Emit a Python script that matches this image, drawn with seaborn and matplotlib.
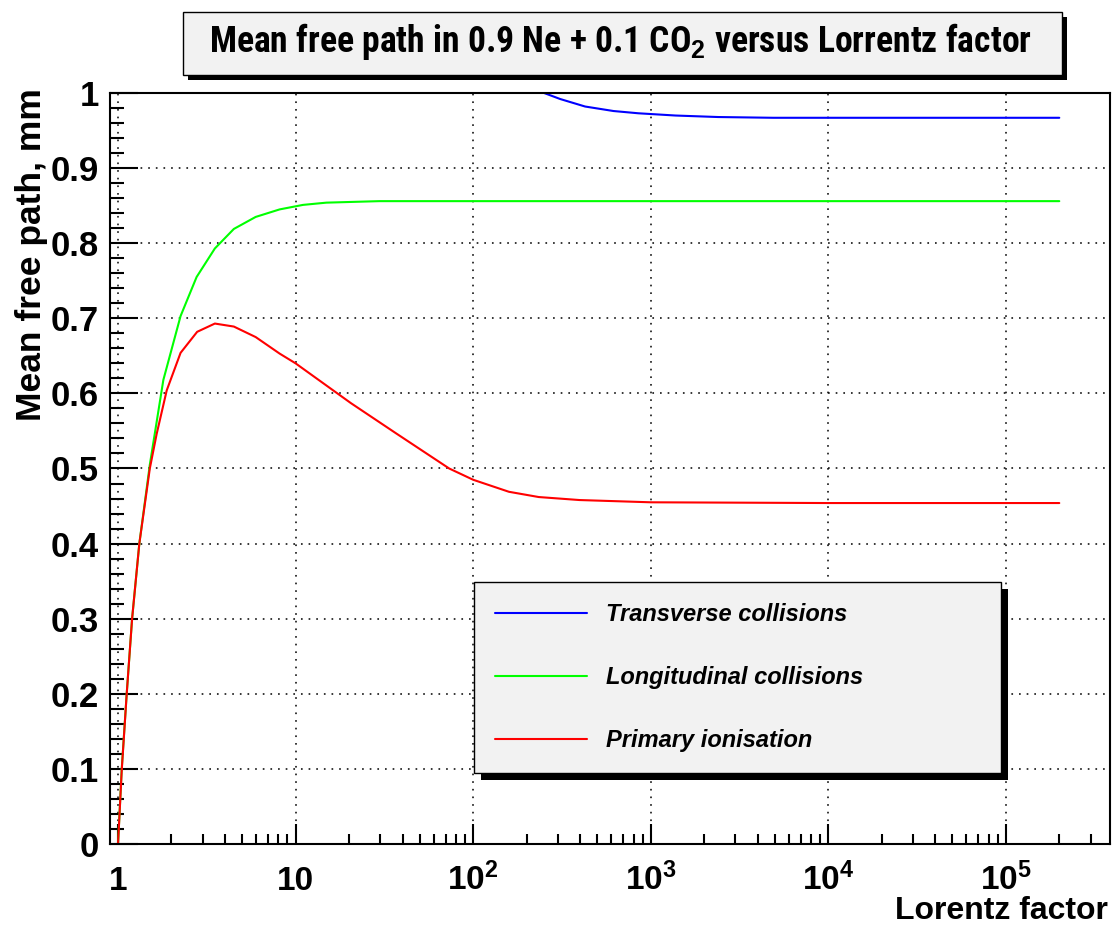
import matplotlib
matplotlib.use("Agg")
import matplotlib.pyplot as plt
import numpy as np
import pandas as pd
import seaborn as sns
from matplotlib import font_manager
from matplotlib.font_manager import FontProperties
from matplotlib.patches import Rectangle
from matplotlib.ticker import FixedLocator, MultipleLocator, FuncFormatter, NullFormatter

# ---- data: mean free path (mm) versus Lorentz factor ----
gamma_transverse = [200, 251, 309, 427, 617, 851, 1000, 1380, 2400, 4900, 1e4, 1e5, 2e5]
mfp_transverse = [1.01, 1.0, 0.992, 0.982, 0.976, 0.973, 0.972, 0.970, 0.968, 0.967, 0.967, 0.967, 0.967]

gamma_longitudinal = [1.0, 1.049, 1.119, 1.20, 1.318, 1.51, 1.80, 2.25, 2.77, 3.51, 4.49, 5.96,
                      8.13, 11.0, 14.9, 29.6, 100, 1000, 1e4, 1e5, 2e5]
mfp_longitudinal = [0.0, 0.10, 0.20, 0.30, 0.40, 0.505, 0.618, 0.703, 0.755, 0.793, 0.819, 0.835,
                    0.845, 0.851, 0.854, 0.856, 0.856, 0.856, 0.856, 0.856, 0.856]

gamma_primary = [1.0, 1.049, 1.119, 1.20, 1.318, 1.51, 1.65, 1.88, 2.25, 2.79, 3.51, 4.49, 5.96,
                 8.13, 10.0, 20.5, 36.7, 73.3, 100, 159, 234, 397, 1000, 1e4, 1e5, 2e5]
mfp_primary = [0.0, 0.098, 0.20, 0.30, 0.40, 0.50, 0.546, 0.604, 0.654, 0.682, 0.693, 0.689, 0.675,
               0.653, 0.640, 0.587, 0.547, 0.500, 0.485, 0.469, 0.462, 0.458, 0.455, 0.454, 0.454, 0.454]

series_labels = ["Transverse collisions", "Longitudinal collisions", "Primary ionisation"]
series_colors = ["#0000ff", "#00ff00", "#ff0000"]

x_major = [1, 10, 100, 1000, 1e4, 1e5]
x_major_labels = ["1", "10", r"$\mathbf{10^{2}}$", r"$\mathbf{10^{3}}$", r"$\mathbf{10^{4}}$", r"$\mathbf{10^{5}}$"]

title_text = r"Mean free path in 0.9 Ne + 0.1 CO$_{\mathbf{2}}$ versus Lorrentz factor"
xlabel_text = "Lorentz factor"
ylabel_text = "Mean free path, mm"

# ---- style ----
sns.set_style("white")


def narrow_font():
    """Pick a condensed bold sans face for the title if one is installed."""
    candidates = [("Liberation Sans Narrow", "normal"), ("Roboto Condensed", "normal"),
                  ("Noto Sans", "condensed"), ("Open Sans", "condensed"), ("DejaVu Sans", "condensed")]
    for fam, stretch in candidates:
        try:
            path = font_manager.findfont(FontProperties(family=fam, weight="bold", stretch=stretch),
                                         fallback_to_default=False)
        except Exception:
            continue
        low = path.lower()
        if "narrow" in low or "condensed" in low:
            return fam, stretch
    return "Liberation Sans", "normal"


title_family, title_stretch = narrow_font()

plt.rcParams["font.family"] = ["Liberation Sans", "DejaVu Sans"]
plt.rcParams["mathtext.fontset"] = "custom"
plt.rcParams["mathtext.bf"] = "Liberation Sans:bold"
plt.rcParams["mathtext.rm"] = "Liberation Sans:bold"
for key in ["text.color", "axes.labelcolor", "xtick.color", "ytick.color", "axes.edgecolor"]:
    plt.rcParams[key] = "black"

W, H = 1115, 925
fig = plt.figure(figsize=(W / 100, H / 100), dpi=100)
ax = fig.add_axes([110 / W, (H - 844) / H, 1000 / W, 751 / H])

frames = [
    pd.DataFrame({"gamma": gamma_transverse, "mfp": mfp_transverse}),
    pd.DataFrame({"gamma": gamma_longitudinal, "mfp": mfp_longitudinal}),
    pd.DataFrame({"gamma": gamma_primary, "mfp": mfp_primary}),
]
for df, lab, col in zip(frames, series_labels, series_colors):
    sns.lineplot(data=df, x="gamma", y="mfp", ax=ax, color=col, linewidth=1.5,
                 label=lab, estimator=None, sort=False)

ax.set_xscale("log")
ax.set_xlim(0.901, 3.86e5)
ax.set_ylim(0, 1.0)

# ticks: inward ticks on left/bottom only
ax.set_xticks(x_major, labels=x_major_labels)
minor = [m * 10 ** d for d in range(0, 6) for m in range(2, 10)]
ax.xaxis.set_minor_locator(FixedLocator(minor))
ax.xaxis.set_minor_formatter(NullFormatter())
ax.yaxis.set_major_locator(MultipleLocator(0.1))
ax.yaxis.set_minor_locator(MultipleLocator(0.02))
ax.yaxis.set_major_formatter(FuncFormatter(lambda v, p: f"{v:.1f}".rstrip("0").rstrip(".") if v != 0 else "0"))

ax.tick_params(axis="x", which="major", direction="in", length=14.5, width=1.5, pad=33,
               labelsize=24, bottom=True, top=False)
ax.tick_params(axis="x", which="minor", direction="in", length=7.2, width=1.5, bottom=True, top=False)
ax.tick_params(axis="y", which="major", direction="in", length=20, width=1.5, pad=8,
               labelsize=25, left=True, right=False)
ax.tick_params(axis="y", which="minor", direction="in", length=10, width=1.5, left=True, right=False)
for t in ax.get_xticklabels():
    t.set_fontweight("bold")
    t.set_va("baseline")
for t in ax.get_yticklabels():
    t.set_fontweight("bold")

ax.grid(True, which="major", color="black", linestyle=(0, (1.1, 3.9)), linewidth=1.1)
ax.grid(False, which="minor")
for s in ax.spines.values():
    s.set_color("black")
    s.set_linewidth(1.5)

ax.set_xlabel(xlabel_text, fontsize=23, fontweight="bold", loc="right")
ax.xaxis.set_label_coords(0.998, -0.069)
ax.set_ylabel(ylabel_text, fontsize=25.5, fontweight="bold", loc="top")
ax.yaxis.set_label_coords(-0.062, 1.006)

# legend box with a solid shadow
leg = ax.legend(loc="upper left", bbox_to_anchor=(474 / W, 1 - 582 / H - 0.01, 527 / W, 0.01),
                bbox_transform=fig.transFigure, mode="expand", borderaxespad=0,
                frameon=True, fancybox=False, edgecolor="black", facecolor="#f2f2f2", framealpha=1,
                prop=FontProperties(family="Liberation Sans", weight="bold", style="italic", size=17),
                handlelength=3.9, handletextpad=0.8, labelspacing=1.7, borderpad=0.88)
leg.get_frame().set_linewidth(1.0)
for h in leg.get_lines():
    h.set_linewidth(1.5)
for t in leg.get_texts():
    t.set_color("black")
leg.set_zorder(6)

# title box with shadow
tx0, tx1, ty0, ty1 = 183, 1062, 11.7, 75
fig.patches.append(Rectangle(((tx0 + 5) / W, 1 - (ty1 + 5) / H), (tx1 - tx0) / W, (ty1 - ty0) / H,
                             transform=fig.transFigure, facecolor="black", edgecolor="none", zorder=1))
fig.patches.append(Rectangle((tx0 / W, 1 - ty1 / H), (tx1 - tx0) / W, (ty1 - ty0) / H,
                             transform=fig.transFigure, facecolor="#f2f2f2", edgecolor="black",
                             linewidth=1.0, zorder=2))
title = fig.text(620 / W, 1 - 42 / H, title_text, ha="center", va="center", fontsize=24,
                 fontweight="bold", family=[title_family, "DejaVu Sans"], fontstretch=title_stretch,
                 zorder=3)

# fit the title to the width of its box text area
fig.canvas.draw()
tw = title.get_window_extent().width
if tw > 0:
    title.set_fontsize(24 * 824 / tw)

fig.canvas.draw()
bb = leg.get_window_extent()
off = 7
ax.add_patch(Rectangle(((bb.x0 + off) / W, (bb.y0 - off) / H), bb.width / W, bb.height / H,
                       transform=fig.transFigure, facecolor="black", edgecolor="none",
                       zorder=5.9, clip_on=False))

fig.savefig("out.png", dpi=100)
